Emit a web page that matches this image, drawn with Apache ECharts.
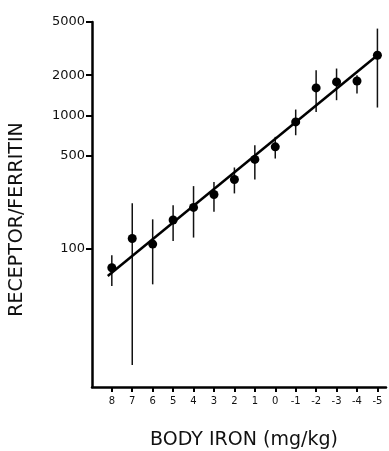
<!DOCTYPE html>
<html>
<head>
<meta charset="utf-8">
<script src="https://cdn.jsdelivr.net/npm/echarts@6/dist/echarts.min.js"></script>
<style>
  html, body { margin: 0; padding: 0; background: #fff; }
  #chart { width: 389px; height: 451px; }
</style>
</head>
<body>
<div id="chart"></div>
<script>
// body iron (mg/kg)
const bodyIron = [8, 7, 6, 5, 4, 3, 2, 1, 0, -1, -2, -3, -4, -5]
const ratioMean = [72.5, 120, 109, 165, 205, 256, 332, 469, 582, 895, 1606, 1781, 1811, 2818]
const ratioHigh = [90, 220, 167, 213, 296, 318, 408, 599, 691, 1107, 2178, 2243, 1998, 4463]
const ratioLow = [53, 13.6, 54.5, 115, 122, 190, 261, 332, 476, 711, 1063, 1300, 1458, 1146]
// regression line ends
const fitX = [8.2, -5]
const fitY = [63, 2820]
const yTicks = [100, 500, 1000, 2000, 5000]

const chart = echarts.init(document.getElementById('chart'))

const option = {
  animation: false,
  grid: { left: 92, right: 3, top: 22, bottom: 64, containLabel: false, outerBoundsMode: 'none' },
  xAxis: {
    type: 'value',
    inverse: true,
    min: -5.42,
    max: 8.97,
    name: 'BODY IRON (mg/kg)',
    nameLocation: 'middle',
    nameGap: 44,
    nameTextStyle: { fontFamily: 'DejaVu Sans', fontSize: 19, color: '#111', padding: [0, 0, 0, 10] },
    axisLine: { onZero: false, lineStyle: { color: '#000', width: 2.5 } },
    axisTick: { length: 5, lineStyle: { color: '#000', width: 2 }, customValues: bodyIron },
    axisLabel: { customValues: bodyIron, fontFamily: 'DejaVu Sans', fontSize: 10, color: '#111', margin: 9 },
    splitLine: { show: false }
  },
  yAxis: {
    type: 'log',
    logBase: 10,
    min: 9.3,
    max: 5000,
    name: 'RECEPTOR/FERRITIN',
    nameLocation: 'middle',
    nameGap: 65,
    nameTextStyle: { fontFamily: 'DejaVu Sans', fontSize: 19, color: '#111', padding: [0, 30, 0, 0] },
    axisLine: { show: true, onZero: false, lineStyle: { color: '#000', width: 2.5 } },
    axisTick: { show: true, length: 6, lineStyle: { color: '#000', width: 2 }, customValues: yTicks },
    axisLabel: {
      customValues: yTicks,
      formatter: v => String(Math.round(v)),
      fontFamily: 'DejaVu Sans',
      fontSize: 13,
      color: '#111',
      margin: 7
    },
    minorTick: { show: false },
    splitLine: { show: false }
  },
  series: [
    {
      // error bars
      type: 'custom',
      data: bodyIron.map((x, i) => [x, ratioHigh[i], ratioLow[i]]),
      renderItem: function(params, api) {
        const top = api.coord([api.value(0), api.value(1)])
        const bot = api.coord([api.value(0), api.value(2)])
        return {
          type: 'line',
          shape: { x1: top[0], y1: top[1], x2: bot[0], y2: bot[1] },
          style: { stroke: '#111', lineWidth: 1.5 }
        }
      },
      z: 1
    },
    {
      type: 'line',
      data: fitX.map((x, i) => [x, fitY[i]]),
      symbol: 'none',
      lineStyle: { color: '#000', width: 2.5 },
      z: 2
    },
    {
      type: 'scatter',
      data: bodyIron.map((x, i) => [x, ratioMean[i]]),
      symbolSize: 9,
      itemStyle: { color: '#000', opacity: 1 },
      z: 3
    }
  ]
}

chart.setOption(option)
</script>
</body>
</html>
